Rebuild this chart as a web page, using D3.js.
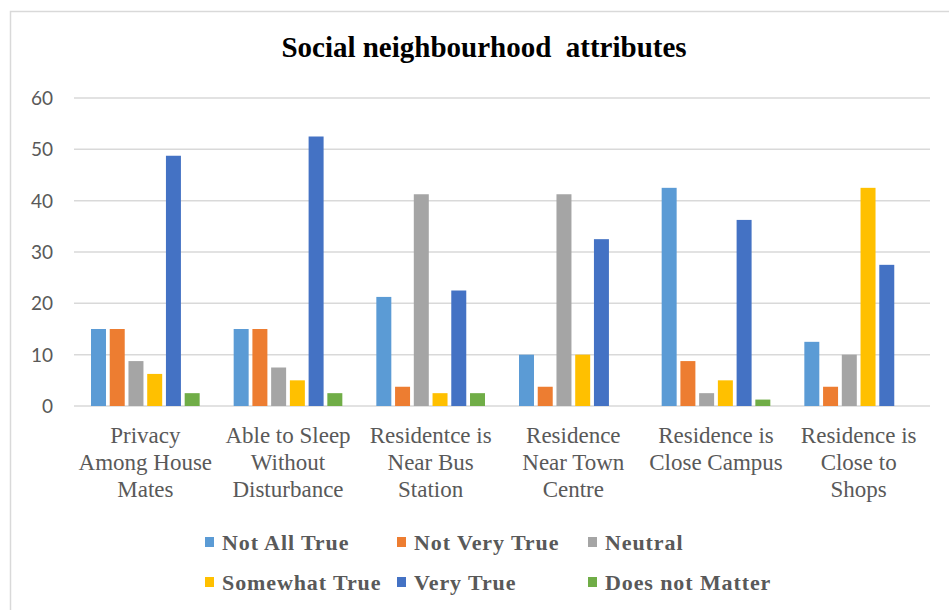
<!DOCTYPE html>
<html>
<head>
<meta charset="utf-8">
<script src="https://cdn.jsdelivr.net/npm/d3@7"></script>
<style>
  html, body { margin: 0; padding: 0; background: #fff; }
  svg { display: block; }
</style>
</head>
<body>
<svg id="chart" width="949" height="610"></svg>
<script>
const categories = [
  "Privacy Among House Mates",
  "Able to Sleep Without Disturbance",
  "Residentce is Near Bus Station",
  "Residence Near Town Centre",
  "Residence is Close Campus",
  "Residence is Close to Shops"
];
const categoryLines = [
  ["Privacy", "Among House", "Mates"],
  ["Able to Sleep", "Without", "Disturbance"],
  ["Residentce is", "Near Bus", "Station"],
  ["Residence", "Near Town", "Centre"],
  ["Residence is", "Close Campus"],
  ["Residence is", "Close to", "Shops"]
];
const seriesNames = ["Not All True", "Not Very True", "Neutral", "Somewhat True", "Very True", "Does not Matter"];
const notAllTrue    = [15, 15, 21.25, 10, 42.5, 12.5];
const notVeryTrue   = [15, 15, 3.75, 3.75, 8.75, 3.75];
const neutral       = [8.75, 7.5, 41.25, 41.25, 2.5, 10];
const somewhatTrue  = [6.25, 5, 2.5, 10, 5, 42.5];
const veryTrue      = [48.75, 52.5, 22.5, 32.5, 36.25, 27.5];
const doesNotMatter = [2.5, 2.5, 2.5, 0, 1.25, 0];
const yTicks = [0, 10, 20, 30, 40, 50, 60];
const colors = ["#5B9BD5", "#ED7D31", "#A5A5A5", "#FFC000", "#4472C4", "#70AD47"];

const seriesValues = [notAllTrue, notVeryTrue, neutral, somewhatTrue, veryTrue, doesNotMatter];

const svg = d3.select("#chart");

// chart border
svg.append("rect")
  .attr("x", 10.5).attr("y", 11.5)
  .attr("width", 960).attr("height", 640)
  .attr("fill", "none").attr("stroke", "#d9d9d9").attr("stroke-width", 1.5);

const plotLeft = 74, plotRight = 930, plotTop = 98, plotBottom = 406;

const x0 = d3.scaleBand().domain(categories).range([plotLeft, plotRight]).paddingInner(0).paddingOuter(0);
const x1 = d3.scaleBand().domain(seriesNames).range([17, x0.bandwidth() - 17]).paddingInner(0.2).paddingOuter(0);
const y = d3.scaleLinear().domain([0, 60]).range([plotBottom, plotTop]);

// gridlines
svg.append("g").selectAll("line").data(yTicks).join("line")
  .attr("x1", plotLeft).attr("x2", plotRight)
  .attr("y1", d => y(d)).attr("y2", d => y(d))
  .attr("stroke", "#d9d9d9").attr("stroke-width", 1.5);

// y labels
svg.append("g").selectAll("text").data(yTicks).join("text")
  .attr("x", 53).attr("y", d => y(d))
  .attr("dy", "0.36em")
  .attr("text-anchor", "end")
  .attr("font-family", "Lato, 'Open Sans', sans-serif")
  .attr("font-size", 19)
  .attr("fill", "#595959")
  .text(d => d);

// bars
const groups = svg.append("g").selectAll("g").data(categories).join("g")
  .attr("transform", d => `translate(${x0(d)},0)`);
groups.selectAll("rect")
  .data((d, i) => seriesNames.map((s, j) => ({ s, v: seriesValues[j][i], c: colors[j] })))
  .join("rect")
  .attr("x", d => x1(d.s))
  .attr("width", x1.bandwidth())
  .attr("y", d => y(d.v))
  .attr("height", d => y(0) - y(d.v))
  .attr("fill", d => d.c);

// category labels
const catG = svg.append("g").selectAll("text").data(categories).join("text")
  .attr("text-anchor", "middle")
  .attr("font-family", "'Liberation Serif', 'Times New Roman', serif")
  .attr("font-size", 23)
  .attr("fill", "#595959");
catG.each(function(d, i) {
  const t = d3.select(this);
  categoryLines[i].forEach((line, k) => {
    t.append("tspan")
      .attr("x", x0(d) + x0.bandwidth() / 2)
      .attr("y", 443 + k * 27)
      .text(line);
  });
});

// title
svg.append("text")
  .attr("x", 484).attr("y", 57)
  .attr("text-anchor", "middle")
  .attr("font-family", "'Liberation Serif', 'Times New Roman', serif")
  .attr("font-weight", "bold")
  .attr("font-size", 29)
  .attr("fill", "#000")
  .style("white-space", "pre")
  .text("Social neighbourhood  attributes");

// legend
const legendX = [205, 397, 588];
const legendY = [550, 590];
const legend = svg.append("g").selectAll("g").data(seriesNames).join("g")
  .attr("transform", (d, i) => `translate(${legendX[i % 3]},${legendY[Math.floor(i / 3)]})`);
legend.append("rect")
  .attr("x", 0).attr("y", -13).attr("width", 9).attr("height", 10)
  .attr("fill", (d, i) => colors[i]);
legend.append("text")
  .attr("x", 17).attr("y", 0)
  .attr("font-family", "'Liberation Serif', 'Times New Roman', serif")
  .attr("font-weight", "bold")
  .attr("font-size", 22)
  .attr("letter-spacing", 0.9)
  .attr("fill", "#595959")
  .text(d => d);
</script>
</body>
</html>
